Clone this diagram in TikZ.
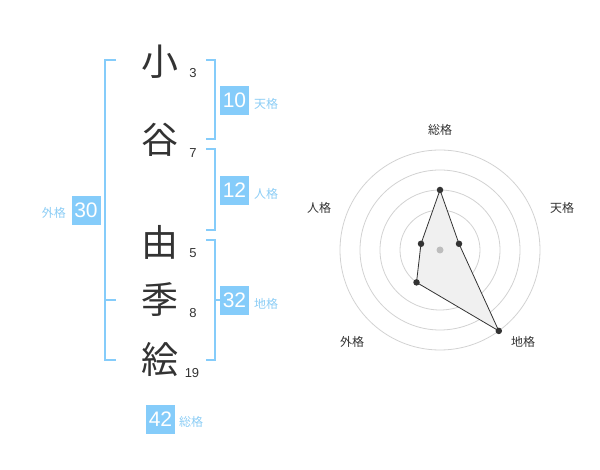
\documentclass[tikz,border=0pt]{standalone}
\usepackage{fontspec}
\setmainfont{Liberation Sans}
\newfontfamily\cjk{Noto Sans CJK JP}
\definecolor{bluebox}{RGB}{133,204,250}
\definecolor{bluetxt}{RGB}{140,205,245}
\definecolor{ink}{RGB}{51,51,51}
\definecolor{ring}{RGB}{210,210,210}
\begin{document}
\begin{tikzpicture}[x=1pt,y=-1pt,
  kanji/.style={font=\cjk\fontsize{37}{37}\selectfont,text=ink,inner sep=0pt},
  strokes/.style={font=\fontsize{13}{13}\selectfont,text=ink,inner sep=0pt},
  numbox/.style={fill=bluebox,text=white,minimum width=29pt,minimum height=29pt,inner sep=0pt,font=\fontsize{21}{21}\selectfont},
  kaku/.style={font=\cjk\fontsize{12}{12}\selectfont,text=bluetxt,inner sep=0pt},
  bracket/.style={draw=bluebox,line width=2pt},
  axlabel/.style={font=\cjk\fontsize{12}{12}\selectfont,text=ink,inner sep=0pt},
  ringc/.style={draw=ring,line width=0.8pt},
  dot/.style={circle,fill=ink,minimum size=6.5pt,inner sep=0pt}]
\useasboundingbox (0,0) rectangle (600,470);
% name characters
\node[kanji] (c1) at (160,62) {小};
\node[kanji] (c2) at (160,140) {谷};
\node[kanji] (c3) at (160,242) {由};
\node[kanji] (c4) at (160,300) {季};
\node[kanji] (c5) at (160,360) {絵};
\node[strokes] (s1) at (193,73) {3};
\node[strokes] (s2) at (193,153) {7};
\node[strokes] (s3) at (193,253) {5};
\node[strokes] (s4) at (193,313) {8};
\node[strokes] (s5) at (192,373) {19};
% brackets
\draw[bracket] (116,60) -- (105,60) -- (105,360) -- (116,360);
\draw[bracket] (105,300) -- (116,300);
\draw[bracket] (206,60) -- (215,60) -- (215,139.5) -- (206,139.5);
\draw[bracket] (206,149.5) -- (215,149.5) -- (215,230) -- (206,230);
\draw[bracket] (206,240) -- (215,240) -- (215,360) -- (206,360);
\draw[bracket] (215,300) -- (225,300);
% boxes
\node[numbox] (b10) at (234.5,100.5) {10};
\node[numbox] (b12) at (234.5,190.5) {12};
\node[numbox] (b30) at (86,210.5) {30};
\node[numbox] (b32) at (234.5,300.5) {32};
\node[numbox] (b42) at (160.5,419) {42};
\node[kaku,anchor=west] (ten) at (254,104) {天格};
\node[kaku,anchor=west] (jin) at (254,194) {人格};
\node[kaku,anchor=east] (gai) at (66,213) {外格};
\node[kaku,anchor=west] (chi) at (254,304) {地格};
\node[kaku,anchor=west] (sou) at (179,422) {総格};
% radar
\coordinate (o) at (440,250);
\foreach \r in {20,40,60,80,100} \draw[ringc] (o) circle[radius=\r];
\coordinate (p1) at (440,190);
\coordinate (p2) at (459.0,243.8);
\coordinate (p3) at (498.8,330.9);
\coordinate (p4) at (416.5,282.4);
\coordinate (p5) at (421.0,243.8);
\fill[black!6] (p1) -- (p2) -- (p3) -- (p4) -- (p5) -- cycle;
\fill[ring!90!black] (o) circle[radius=3.5];
\draw[ink,line width=0.8pt] (p1) -- (p2) -- (p3) -- (p4) -- (p5) -- cycle;
\foreach \p in {p1,p2,p3,p4,p5} \node[dot] at (\p) {};
\node[axlabel] (a1) at (440,130) {総格};
\node[axlabel] (a2) at (562,208) {天格};
\node[axlabel] (a5) at (319,208) {人格};
\node[axlabel] (a4) at (352,342) {外格};
\node[axlabel] (a3) at (523,342) {地格};
\end{tikzpicture}
\end{document}
